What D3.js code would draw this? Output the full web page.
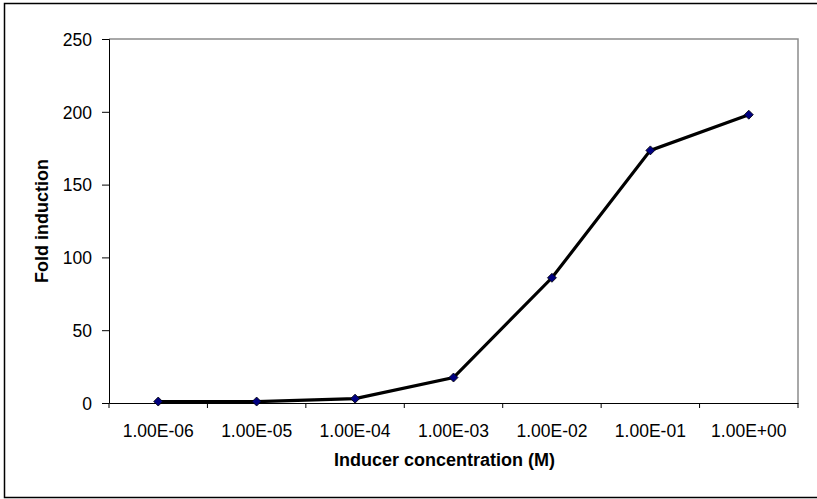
<!DOCTYPE html>
<html>
<head>
<meta charset="utf-8">
<script src="https://cdn.jsdelivr.net/npm/d3@7"></script>
<style>
  body { margin: 0; background: #fff; }
  svg { display: block; font-family: "Liberation Sans", Arial, sans-serif; }
</style>
</head>
<body>
<div id="chart"></div>
<script>
// data
var concentrations = ["1.00E-06", "1.00E-05", "1.00E-04", "1.00E-03", "1.00E-02", "1.00E-01", "1.00E+00"];
var foldInduction = [1, 1, 3, 17.5, 86, 173.5, 198];
var yTicks = [0, 50, 100, 150, 200, 250];

var width = 817;
var height = 499;
var margin = { top: 39, right: 19, bottom: 96, left: 109 };

var svg = d3.select("#chart")
  .append("svg")
  .attr("width", width)
  .attr("height", height);

// outer frame (right side runs off the picture)
svg.append("rect")
  .attr("x", 4.5)
  .attr("y", 3.5)
  .attr("width", 830)
  .attr("height", 494)
  .attr("fill", "none")
  .attr("stroke", "#000")
  .attr("stroke-width", 1.5);

var x = d3.scaleBand()
  .domain(concentrations)
  .range([margin.left, width - margin.right]);

var y = d3.scaleLinear()
  .domain([0, 250])
  .range([height - margin.bottom, margin.top]);

// plot area border, top and right in grey
svg.append("path")
  .attr("d", "M" + margin.left + "," + margin.top + "H" + (width - margin.right) + "V" + (height - margin.bottom))
  .attr("fill", "none")
  .attr("stroke", "#8c8c8c")
  .attr("stroke-width", 1.5);

var yAxis = svg.append("g")
  .attr("transform", "translate(" + margin.left + ",0)")
  .call(d3.axisLeft(y).tickValues(yTicks).tickSize(7).tickPadding(10));

var xAxis = svg.append("g")
  .attr("transform", "translate(0," + (height - margin.bottom) + ")")
  .call(d3.axisBottom(x).tickSize(0).tickPadding(22));

// category ticks sit between the categories
var edges = concentrations.map(function (d) { return x(d); });
edges.push(x.range()[1]);
xAxis.selectAll(".edge")
  .data(edges)
  .enter()
  .append("line")
  .attr("class", "edge")
  .attr("x1", function (d) { return d; })
  .attr("x2", function (d) { return d; })
  .attr("y1", 0)
  .attr("y2", 5)
  .attr("stroke", "#000");

svg.selectAll(".domain").attr("stroke", "#000");
svg.selectAll(".tick line").attr("stroke", "#000");
svg.selectAll(".tick text")
  .attr("fill", "#000")
  .style("font-size", "17.5px")
  .style("font-family", "'Liberation Sans', Arial, sans-serif");
yAxis.selectAll(".tick text").attr("dy", "0.36em");

// axis titles
svg.append("text")
  .attr("x", 444.5)
  .attr("y", 465.5)
  .attr("text-anchor", "middle")
  .style("font-size", "18px")
  .style("font-weight", "bold")
  .text("Inducer concentration (M)");

svg.append("text")
  .attr("transform", "translate(48," + (margin.top + height - margin.bottom) / 2 + ") rotate(-90)")
  .attr("text-anchor", "middle")
  .style("font-size", "18px")
  .style("font-weight", "bold")
  .text("Fold induction");

var points = concentrations.map(function (d, i) {
  return [x(d) + x.bandwidth() / 2, y(foldInduction[i])];
});

svg.append("path")
  .datum(points)
  .attr("d", d3.line())
  .attr("fill", "none")
  .attr("stroke", "#000")
  .attr("stroke-width", 3.2)
  .attr("stroke-linejoin", "miter");

svg.selectAll(".marker")
  .data(points)
  .enter()
  .append("path")
  .attr("class", "marker")
  .attr("transform", function (d) { return "translate(" + d[0] + "," + d[1] + ")"; })
  .attr("d", "M0,-4.5L4.5,0L0,4.5L-4.5,0Z")
  .attr("fill", "#000080")
  .attr("stroke", "#000")
  .attr("stroke-width", 0.8);
</script>
</body>
</html>
